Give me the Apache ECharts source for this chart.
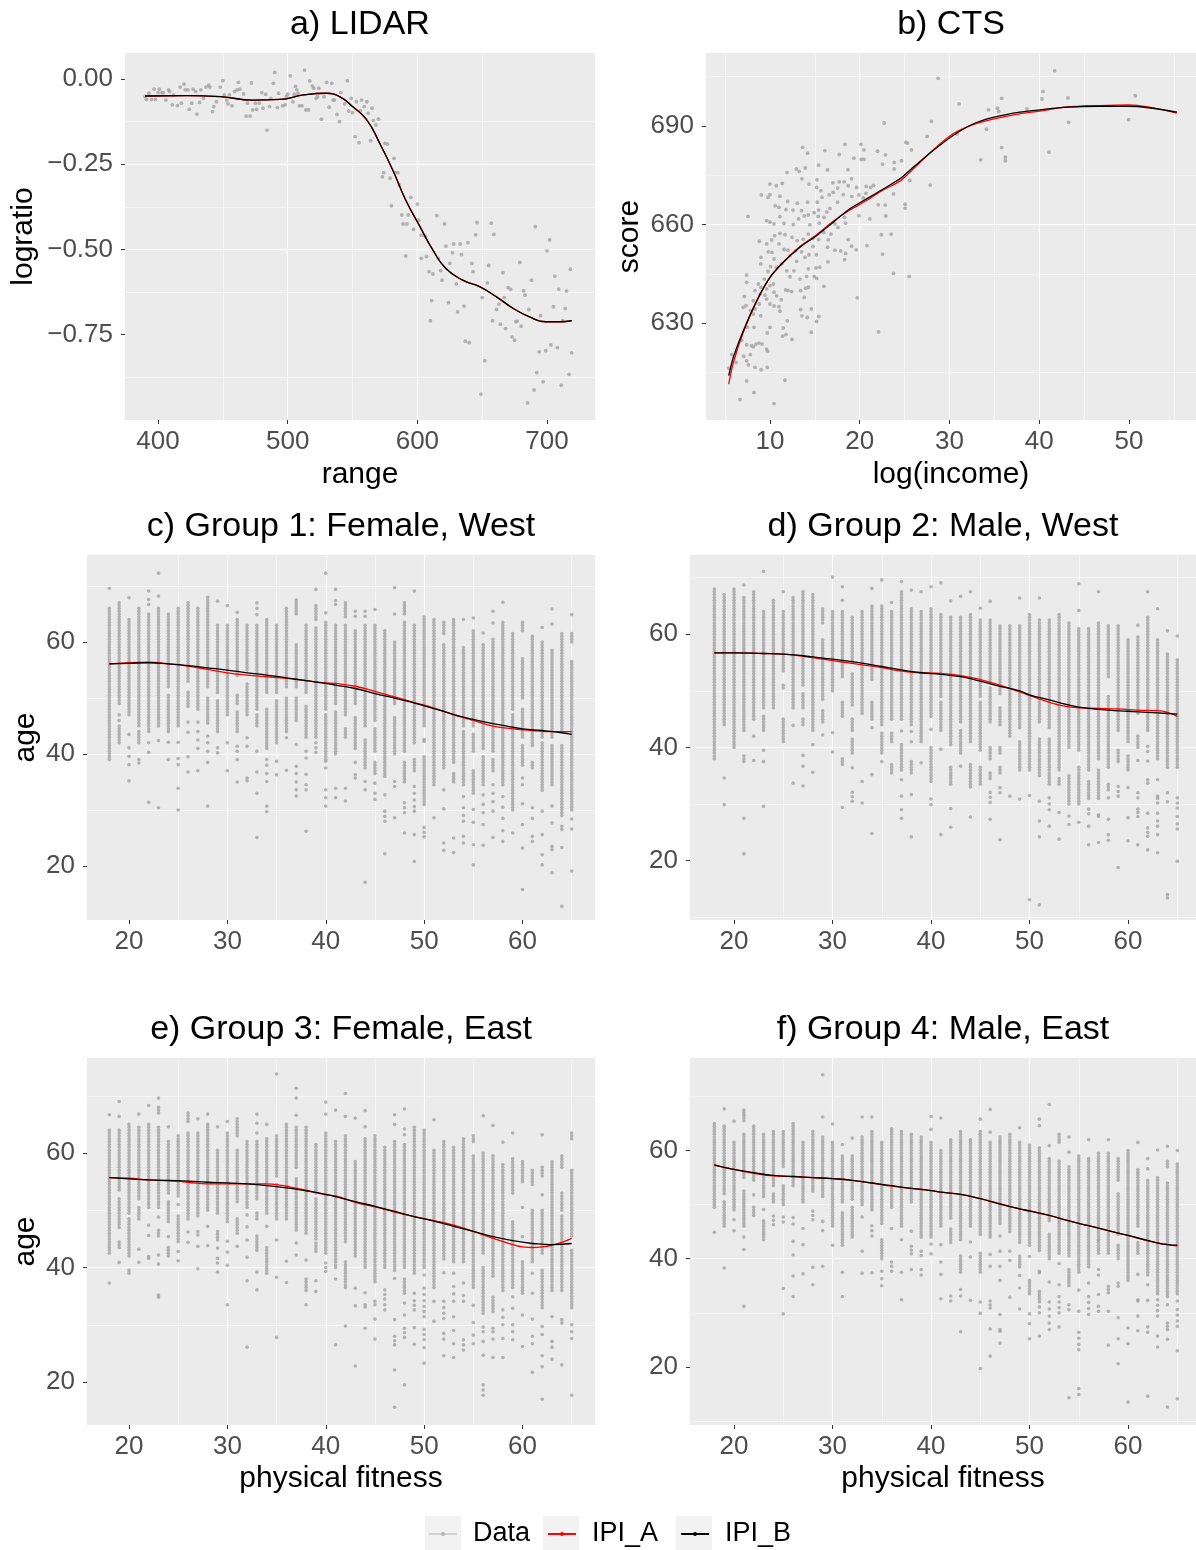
<!DOCTYPE html>
<html>
<head>
<meta charset="utf-8">
<script src="https://cdn.jsdelivr.net/npm/echarts@6/dist/echarts.min.js"></script>
<style>
  html, body { margin: 0; padding: 0; background: #fff; }
  #chart { width: 1196px; height: 1550px; }
</style>
</head>
<body>
<div id="chart"></div>
<script>
// ---- a) LIDAR ----
var lidarRange = [390,391,393,395,397,398,400,401,403,404,
  406,408,409,411,412,415,417,418,420,421,
  423,424,426,427,429,430,432,433,435,437,
  439,440,442,443,445,448,450,451,453,454,
  455,457,459,461,462,463,466,468,469,471,
  472,473,475,476,478,480,481,483,484,486,
  487,489,490,492,493,496,498,499,500,502,
  504,505,506,507,508,509,511,513,514,516,
  517,519,520,522,523,524,526,528,530,532,
  534,535,536,538,540,541,544,546,547,549,
  550,552,553,555,556,557,559,561,562,564,
  565,566,568,570,573,574,575,577,579,580,
  582,583,585,586,588,589,591,592,593,595,
  597,600,601,603,606,603,607,609,610,611,
  612,615,616,618,619,621,622,624,625,627,
  628,630,631,633,634,636,637,639,640,642,
  643,645,646,649,650,652,654,655,657,658,
  659,661,663,664,666,667,668,670,672,673,
  675,676,677,679,680,682,683,685,686,688,
  690,691,692,694,695,697,699,700,702,703,
  705,706,708,709,711,712,714,715,717,718,
  719];
var lidarLogratio = [-0.052,-0.060,-0.042,-0.060,-0.030,-0.060,-0.040,-0.030,-0.040,-0.040,
  -0.062,-0.032,-0.037,-0.076,-0.047,-0.078,-0.024,-0.071,-0.015,-0.032,
  -0.032,-0.089,-0.071,-0.030,-0.037,-0.103,-0.069,-0.032,-0.057,-0.024,
  -0.018,-0.024,-0.096,-0.081,-0.067,-0.024,-0.005,-0.047,-0.062,-0.073,
  -0.047,-0.079,-0.037,-0.032,-0.010,-0.030,-0.044,-0.109,-0.071,-0.109,
  -0.012,-0.091,-0.071,-0.089,-0.071,-0.040,-0.086,-0.045,-0.150,-0.081,
  -0.057,-0.013,0.019,-0.084,-0.042,-0.079,-0.076,-0.052,-0.045,0.009,
  -0.067,-0.045,-0.022,-0.032,-0.042,-0.079,-0.079,0.026,-0.091,-0.091,
  -0.006,-0.021,-0.027,-0.057,-0.052,-0.027,-0.118,-0.052,-0.010,-0.083,
  -0.013,-0.062,-0.062,-0.104,-0.125,-0.040,-0.073,-0.005,-0.094,-0.057,
  -0.099,-0.169,-0.067,-0.187,-0.093,-0.062,-0.081,-0.067,-0.101,-0.181,
  -0.086,-0.122,-0.135,-0.118,-0.287,-0.275,-0.189,-0.191,-0.291,-0.372,
  -0.233,-0.275,-0.275,-0.311,-0.399,-0.425,-0.519,-0.425,-0.399,-0.347,
  -0.441,-0.367,-0.414,-0.458,-0.461,-0.526,-0.521,-0.565,-0.709,-0.650,
  -0.572,-0.401,-0.526,-0.562,-0.590,-0.425,-0.490,-0.656,-0.541,-0.510,
  -0.484,-0.601,-0.683,-0.484,-0.515,-0.666,-0.769,-0.480,-0.773,-0.541,
  -0.565,-0.457,-0.421,-0.924,-0.641,-0.826,-0.598,-0.547,-0.423,-0.709,
  -0.456,-0.676,-0.660,-0.719,-0.568,-0.641,-0.732,-0.612,-0.617,-0.756,
  -0.766,-0.712,-0.710,-0.538,-0.725,-0.621,-0.634,-0.950,-0.676,-0.590,
  -0.912,-0.433,-0.861,-0.800,-0.694,-0.888,-0.797,-0.504,-0.472,-0.780,
  -0.668,-0.578,-0.788,-0.616,-0.898,-0.709,-0.673,-0.622,-0.866,-0.558,
  -0.803];
var lidarFitX = [390,422,448,473,494,512,530,540,550,561,571,581,591,602,612,622,635,648,661,674,686,699,710,719];
var lidarFitA = [-0.050,-0.049,-0.052,-0.062,-0.060,-0.047,-0.042,-0.052,-0.081,-0.120,-0.189,-0.267,-0.355,-0.433,-0.502,-0.556,-0.590,-0.609,-0.639,-0.673,-0.697,-0.712,-0.712,-0.709];
var lidarFitB = [-0.050,-0.049,-0.052,-0.062,-0.060,-0.047,-0.042,-0.052,-0.081,-0.120,-0.189,-0.267,-0.355,-0.433,-0.502,-0.556,-0.590,-0.609,-0.639,-0.673,-0.697,-0.712,-0.712,-0.709];

// ---- b) CTS ----
var ctsIncome = [28.74,41.72,31.07,40.42,40.31,43.2,50.7,35.82,34.34,35.34,
  35.49,38.64,43.28,49.96,27.99,22.73,30.85,27.51,35.82,33.48,
  36.23,36.23,41.09,25.14,25.32,25.77,34.12,27.85,25.58,23.84,
  24.65,23.84,23.76,22.54,22.87,21.98,20.46,20.13,20.17,20.46,
  19.35,18.35,17.72,16.12,13.64,14.19,13.93,12.93,13.26,11.89,
  13.56,14.34,15.42,16.42,18.68,15.23,15.19,18.27,19.09,18.72,
  17.72,17.01,17.53,17.05,16.60,15.68,15.79,15.27,14.19,13.04,
  11.97,11.37,10.70,10.0,11.11,10.0,9.04,9.78,10.59,11.0,
  11.11,11.78,12.56,13.52,14.27,14.93,15.42,15.38,16.34,16.68,
  17.53,18.16,19.13,19.91,20.39,20.72,21.2,21.54,20.69,22.06,
  22.84,22.91,21.13,19.91,19.65,25.06,25.06,7.55,9.63,10.0,
  10.45,11.56,12.6,13.19,13.82,14.45,15.49,16.01,17.23,18.31,
  18.42,17.57,16.79,16.01,14.79,14.27,13.71,13.04,12.45,11.67,
  11.11,10.52,10.19,9.63,8.81,9.81,10.22,10.45,11.0,11.56,
  12.0,12.23,12.86,12.97,13.52,13.9,14.34,14.79,15.16,15.42,
  16.42,16.49,17.23,17.87,18.42,18.72,19.09,19.61,20.8,22.43,
  23.5,22.54,23.76,25.51,18.31,16.46,16.01,15.53,15.12,14.93,
  15.19,14.27,14.08,13.34,12.67,12.23,11.86,11.3,10.74,10.07,
  9.78,9.37,8.96,9.0,8.7,9.0,9.63,10.0,10.37,10.45,
  10.74,11.26,11.74,12.0,12.41,13.41,13.97,14.27,13.82,13.41,
  13.56,14.16,14.6,15.45,15.19,14.6,12.45,11.93,11.48,11.78,
  11.41,11.11,11.0,10.45,10.0,9.63,9.44,8.89,8.81,8.33,
  8.15,7.4,7.4,7.14,7.33,7.03,7.85,8.33,8.15,8.96,
  10.0,9.7,8.22,7.48,6.85,7.4,7.07,7.81,7.96,8.15,
  8.44,8.78,9.11,9.63,9.74,7.4,7.59,8.33,9.0,9.7,
  5.74,6.22,5.4,7.4,8.22,6.66,11.67,10.45,19.72,22.1];
var ctsScore = [704.5,706.8,696.7,700.5,698.2,698.5,699.2,698.4,694.9,695.4,
  694.4,695.2,691.1,691.9,691.4,690.9,687.6,686.8,683.4,679.7,
  680.5,679.4,682.0,685.0,684.8,682.7,689.0,672.0,673.4,678.9,
  679.4,676.9,669.3,678.4,681.2,682.3,682.7,684.4,679.8,679.8,
  680.2,684.4,681.3,682.5,683.5,681.7,677.2,676.9,676.2,675.8,
  673.9,672.3,678.1,676.6,676.7,673.6,671.3,673.0,673.9,671.8,
  673.0,672.7,671.1,669.8,669.0,670.3,668.3,666.8,666.8,666.5,
  667.0,672.5,671.8,672.3,668.6,669.1,669.0,668.3,665.7,665.2,
  662.4,664.5,664.4,664.2,662.9,663.6,664.4,662.5,663.8,664.9,
  666.8,669.1,668.5,669.0,668.1,671.6,671.3,671.9,669.5,666.0,
  665.9,662.6,661.7,662.7,671.3,666.2,665.0,662.5,661.2,660.7,
  660.2,660.3,660.0,661.7,662.6,659.9,660.4,662.2,660.2,662.2,
  660.4,659.1,657.1,657.6,655.8,657.1,655.5,655.1,656.1,656.9,
  657.3,656.6,655.3,654.1,654.9,651.7,651.5,649.5,654.1,652.4,
  652.2,650.5,652.0,648.8,651.7,650.0,650.8,653.3,650.8,655.4,
  653.1,655.3,652.2,652.0,651.2,655.4,653.4,652.3,653.6,656.9,
  657.1,651.0,645.1,644.2,649.3,648.6,641.2,647.0,646.8,644.2,
  643.6,646.5,644.2,643.4,645.9,644.1,645.9,648.0,647.0,647.2,
  645.7,643.4,648.0,650.0,641.9,640.9,640.4,641.4,641.9,639.4,
  638.3,637.1,640.1,639.9,639.6,639.9,640.6,640.9,637.8,634.1,
  632.2,631.7,634.3,632.0,630.5,627.2,625.0,630.7,628.5,626.5,
  626.0,633.6,635.0,635.2,635.8,637.3,638.5,638.8,635.8,639.9,
  636.8,642.4,644.6,638.1,635.3,634.8,633.8,634.3,632.8,632.2,
  628.7,627.0,628.7,628.7,624.8,623.4,619.9,620.4,623.1,622.8,
  623.6,623.9,623.6,622.1,621.4,618.5,617.3,616.5,615.8,616.5,
  620.4,618.0,616.3,612.4,608.9,606.7,612.6,605.5,637.7,627.3];
var ctsFitX = [5.40,5.92,7.03,8.52,10.0,11.48,13.34,15.19,17.05,18.9,20.76,22.61,24.47,25.95,28.18,30.4,32.63,34.86,37.82,40.05,43.02,46.73,49.99,55.34];
var ctsFitA = [611.4,618.0,627.2,636.6,643.9,648.5,653.3,656.9,661.0,664.4,667.3,670.5,673.2,676.9,682.7,687.6,690.4,692.1,693.7,694.5,695.7,696.2,696.4,693.9];
var ctsFitB = [614.0,619.6,627.7,636.8,643.9,648.5,653.1,656.6,660.7,664.8,667.8,670.8,673.9,677.4,682.5,687.1,690.6,692.6,694.2,694.9,695.7,696.0,696.0,694.2];

// ---- c)-f): physical fitness 18..65, one string per column of read ages.
// "a-b" = a run of stacked observations from a to b, single numbers = isolated points
var fitnessFirst = 18;
var group1Cols = ["39-66 69.6","49-67 47 46 42-45","47-64 67.9 43.5 41.1 39.6 38.1 35.2","45-66 42-44 39 38.4",
  "44-65 66.7 67.6 69.1 42 40.3 31.4","48-66 68.2 72.3 45-47.5 42.4 30.4","52-65 44-50.5 42.1 39","45-66 42.1 39.2 38.1 33.9 30",
  "53-67 48.5-51 45.7 43.9 39.5 36.8","48-66 45.7 44 42.5 41 37","52-68 45.5-50 43.2 42 40.5 38.5 30.7","51-63 67.3 44-49.5 41.1 40.2",
  "47-63 66.5 42 37","54-64 65.3 49-50.5 44-47.5 41.4 40.5 39 35","55-63 47-52.5 42.9 41.4 35.7 35.2","48-63 64.9 66 67 45-47 40.5 36.8 33 25.1",
  "51-64 41-48 39 38 36.5 35.1 30.7 29.7","51-63 42-49.5 38.7 36.3","52-66 44-50 42.9 37.1","52-59.5 65-67.5 46-50 41.7 37.8 36.5 35 33.6 32.5",
  "51-63 43-48.8 40.5 39.3 36.4 34.5 33.6 26.2","43-62.5 64-66.5 69.4 42 41.1 40.3","48-63.5 39-47 65.2 72.3 38.7 37.5 33.6 32.2 30.7","49-63 40-47.5 66.7 67.4 69.4 33.9 32.2",
  "47-63 64.5-67 43-44.5 33.9 31.6","49-62 64.6 65.5 41-46.5 38.5 36.3 35.7","45-63 64.6 65.5 37.5-42.5 35.1 33.6 17.1","46-63 65.8 40.5-44.5 36.5-38.5 34.8 33 31.9",
  "36-62 32.7 29.8 28.9 28 22.2","49-60 40-46.5 65 69.7 35.1 34.2 28.6","40.5-63.5 65-67 35-38.5 31.3 30.4 29.5 25.9","42-63 69.1 37-39 34.2 33 31.8 30.6 29.8 25.6 20.8",
  "45-64.5 42.3 42.6 31-39.5 26.9 26 25.2","34.5-64 28.6","37.5-59.5 61.5-63.5 33.6 30.2 24.1 22.8","38.5-64 35-36.5 25 22.4",
  "45-59 34.5-44 64 32.4 30.4 29 28 25.3 24.1","45-62 64.3 40.5-43.5 33-37 30.1 27.8 23.8 20.2","41-59.5 61.6 34.5-39.5 32.7 31 29.5 27.4 23.7","40.5-60.5 63.4 65.5 37-39 34.5 33 31.5 29.8 25.1",
  "40.5-63.5 67.1 34.5-40 32.4 30.5 28.5 26.3 24.4","48-61.5 30-47 25.9","50-57 62-63.5 43-48 38-41.5 35.7 34.5 31.1 27.4 23.2 15.8","41.5-61 37.5-38.5 30.4 28.5 25.3 24.4",
  "43-60 33.5-42 62.6 29.8 25.6 22 20.2","43-58.5 34.5-41.5 63.2 65.9 30.7 27.7 23.5 22.9 18.8","44-61.5 29-41.5 27.1 26.5 23.3 12.8","30-56.5 60-61.5 64.9 28.4 26.6 19.1"];
var group2Cols = ["38-68","44-67 34.6 29.9","40-68","43-66.5 68.7 37.5-38.5 27.5 21.2",
  "45-67.5 42 37.7","47-64 71.1 43-45.5 39.5 37.5 29.6","47-66","53.5-64 67.5 50.5-51 41-45",
  "47-66.5 43.9 33.7","51-67.5 47-49.5 44-45 38.6 36.7 33.2","43-67 40.5 35.6","62-64.5 48.5-59 44.5-46.5 42.2",
  "50-64 70.1 42.6 39.2","52.5-64 66 68.4 45.5-48 37-38 29.4","55-63 47.5-53 43-45 39-41.5 36.4 32.1 31.3 30.5","46-64 34 30.2",
  "52-65 68.1 45-48 43.5 35.2 24.8","44-65 69.6 39-42.5 37.5","45-64 65.6 41-42.5 35.5-37","45-67.5 69.3 42.9 36-40.5 34.3 31.4 29 27.5",
  "44-64.5 67.8 42.8 41 35.5-37.5 31.7 24.2","41-64 67.5 37.3","45.5-64.5 68.4 43.2 34-40 30.9 29.9","49-63.5 43-48 69.1 39.7 24.6",
  "40.5-63 65.9 33.5-36.5 29.2 25.9","44.5-63 66.7 39-43 36.7","41-63.5 67.5 33-37 27.7","49-62.5 64.6 39.5-48 33.5-36.5",
  "51.5-62.5 65.8 44.5-50.5 38-40 34.5-35.5 32.1 31.2 30.3 27.3","49.5-61.5 44-47 39-40 35.5-36.5 32.9 32 23.7","42-61.5 31.4","43.5-61.5 66.4 36-41 30.9",
  "36-63.5 31.5 13.1","44.5-62.5 66.4 35-41.5 30.5 27 24.2 12.2","43.5-62.5 33.5-41.5 31.1 30 29 26.1","36-63.5 33.5-34.5 28.5 23.8",
  "40-62 30-35 27.9 26.4","39.5-61 64.2 68.9 30-36.5 26.8","43-61 36-42.5 31-34 28.3 29.1 26.1 22.8","38-62 67.5 31-36 27.8 28.1 23.2",
  "52.5-61.5 36.5-49 32.5-33.5 31.1 27.3 24.6 23.6","43-61.5 37.5-39.5 31.4 32.2 33.1 18.8","41-59 36-38.5 32.9 27.6 23.5","46-59.5 61.6 40-42 37.7 31.1 32 27.8 28.5 29.1 22.8",
  "43-63 67.5 39.3 40.2 37.6 33.7 34.3 28.4 24.3 25 25.8 21.9","38-59 64.5 34.3 30.2 31 31.4 26.1 27 28.4 24.6 21.4","36.5-56.5 60.6 32 30.4 14 13.4","36.5-55.5 59.7 31.1 30.2 29.3 27.8 26.5 25.6 19.9"];
var group3Cols = ["42.5-64 66.7 37.3","53.5-64 47-52 69 66.4 43.5-44.5 40.9","49.5-65 42-48.5 39-39.5","52-64.5 66.8 48.5-50.5 43.2 40.9",
  "50.5-65 68.3 47.4 45.6 41.6 41.9","50.5-64.5 67-68 69.6 48.8 45.5-46.5 42.2 40.6 34.8 35.2","53-62 64.6 48-51.5 45.4 42-43.5","52.5-63 51 44.5-49 42.8 41.2",
  "48.5-63.5 65.5-67 46.2 44.4","49-63.5 66 45.7 46.3 43.7 39.8","50-65 66.8 47.2 43.8","49.5-60.5 64.6 44.8-46.6 43.4 41.6 40.8 39.2",
  "48-63.5 65.5 44.6 42.7 40.4 33.5","51.5-60.5 63-66 46-48.5 43.7","50.5-62 49.2 47.1 44.8 41.8 37.7 26.1","52-62 63.5 65.2 66.8 48.5-49.5 43-45.5 39.2 36.1",
  "49.5-62.5 65 47.2 39-43.5","56-63 48.5-54.5 73.8 44.8 38.3 27.8","48.5-65 41.1 37.4","57.5-64.5 46.5-55.5 66.6 69.6 71.3 44.3 42.2",
  "48.5-64.5 46-48 41.3 36-38 33.5","53-61.5 45-52 42.8-44.6 37.7 35.8","42.5-63.5 66.8 68.9 39.3 40 40.8","40-62 67.5 38 26.5",
  "44.5-63 66.4 70.4 36.5-41 29.8","42-58.5 66.1 36.4 33.3 22.8","40-62.5 64.6 67.4 35.6 33.1 33.5 29.4","37.5-63 33.5 34.1 31 27.5",
  "40-61 32.6 33.5 34.5 35.3 36.1","39.5-62 65 66.7 38.1 30.9 28 27.2 26.5 22.1 15.6","40-61.5 63.2 64.2 67.7 35.5-38 33.8 31.7 29.4 28.6 27.8 19.5","39-64.5 35.5 34.2 33.4 32.6 29.5 26.6",
  "40-64 38.7 36.4 35.3 34.2 33.2 32.3 31.4 29.2 28.3 27.4 26 23.3","36.5-60.5 65.8 34.1 30.6","41.5-62 39.1 34.1 33 32 31.1 28.5 27.5 24.6","41-61 39 36.7 35.4 34.1 31.4 29 26.7 24.3",
  "41-62.5 37.3 35.1 34.1 27.4 26.5 25.6","36.5-59.5 62-63 33.4 30.4 28.2 26.7","42.5-60 32-40 66.5 29.6 28.8 27.1 24.7 19.5 18.6 17.7","38.5-59.5 64.8 32.3-35 29.4 28.8 27.5 24.3",
  "36-58 61.9 32.6 31.3 30 27.6 24.3","36.5-48 53-59 63.5 34.9 32.9 30 28.8 27.4","55-58.5 50.5 45.4 35.5-41 31.7 26.2","41-50 54.5-57 39 35.5 31 28 26.7 21.7",
  "42.5-50 56-57.5 52.7 63.2 33-39.5 29.7 28.3 24.6 22.7 17","36-58.5 31.4 27.1 26.1 24","36-49 50-53 57.5-59.5 30.9 30.3 23","45.5-57 33-43 62.5-63.5 30 28.8 27.6 17.7"];
var group4Cols = ["49.5-65 44.9","52-64.5 67.7 46-50.5 38.3","49-61.5 65.4 47.2 45.2","55-63 65.5-67.5 46-52.5 44 41.7 31.2",
  "54.5-64.5 51.8 48-49.5","51.5-63 49.1 43.5-47","53.5-63.5 50.5-52 46.3 47.1 47.9","57-63.5 50-53.5 46.8 47.7 34.5 29.8",
  "53.5-65 46.4 47.6 43.2 40.7 36.8 33","50.5-61.5 45.6 42.6 37.2","52.5-63.5 47.2 48 48.8 38.4 35.2","51.5-62.5 66.2 74 46.9 45.2 38.6",
  "46-61.5 64.9 42.5","50.5-59 61.1 42.5-48.5 37.5 33","51-59 62.3 44-49.5","50-62.5 66.2 47.7 41.4 37.3",
  "49-63.5 66.2 44.2 45.2 46.1 37.4","46.5-61.5 40-43.5 35 36.3 37.7","49.5-64 45.6 37.7 38.6 39.4","46-63.5 43.5 37.5 32.4",
  "50.5-63 45.1 40.9 41.6 42.3 38","44-62.5 40.6 41.4 37 38","44-61.5 63.9 66.3 42.7 40.9","46-60 66 42.6 39.4 37.1 32.6",
  "47.5-62 43-45.5 32.2 33.1","43.5-63.5 37.5-40.5 33.1 34.3 26.5","46-62 43.1 40.3 32.3","44.5-63.5 65.8 37.5-41 32 29.9 19.7",
  "44-61.5 63.4 67.6 40.8 38.6 30.9 31.5 32.2 27 22","46.5-62.5 44.2 41.4 38.6 36 29.7 26.9 26.6 24.4","45-63 41.4 39.7 32.9","43-61.5 64.2 38.5-40.5 36.9 34.6 30.7",
  "42.5-61 40.4 33.5-36 29.8 28 25.2","41.5-60.5 64.6 65.8 37.4 37.7 32-34 30 31.1 25.7","47-58.5 60.9 68.5 40-44.5 35.7 32 30.7 29.4 28.1 26.9","41-58 61.5-63 39.1 35.2 33 32 31 30 27.4",
  "40.5-57 59.7 62.5 35-38 30.6 31.5 14.3","37.5-59 34.2 30.3 26.4 25.3 24.2 23.2 16 14.9","38.5-58.5 62 35.5 33 31.9 30.8 29.7","41-59.5 43.5 37 38 33.4 30.3 31.2",
  "41-59.5 62 33.7 34.3 34.9 30.3 24","44.5-52 54.5-58.5 40-42.5 34.9 35.5 29.1 25.2 20.6","36-60 27.2 24.3 13.5","46-56.5 61.5 41-43 37.1 32.2 32.4 29.4 26.7",
  "37-54.5 56.6 58.5 35.2 32.3 26.4 27.4 14.6","33.5-55 60.1 29.4 30.4 31.4 32.4 25.7 23.7","33-54 57-58 60.8 31.5 26.9 27.5 28.1 25.1 12.6","33.5-57.5 60 32.2 30.6 29.6 28.5 27.5 23 14.1"];

// fitted curves for c)-f)
var g1FitAX = [18,22,24,26,28,30,32,34,36,38,40,41,43,45,47,49,51,53,55,57,59,61,63,65];
var g1FitA = [56.1,56.4,56.1,55.7,55.1,54.5,54.1,53.8,53.5,53.1,52.7,52.6,52.1,51.2,50.2,49.2,48.2,47.0,46.0,45.0,44.5,44.2,44.0,44.0];
var g1FitBX = [18,20,22,24,26,28,30,32,34,36,38,40,41,43,45,47,49,50,52,54,56,58,60,62,64,65];
var g1FitB = [56.1,56.2,56.3,56.1,55.8,55.4,55.0,54.5,54.1,53.6,53.1,52.6,52.3,51.7,50.8,50.0,49.1,48.6,47.6,46.6,45.8,45.1,44.5,44.2,43.8,43.5];
var g2FitAX = [18,20,23,25,27,29,31,33,35,37,39,41,43,45,47,49,51,53,55,57,59,61,63,65];
var g2FitA = [56.7,56.7,56.6,56.5,56.1,55.6,55.1,54.6,54.1,53.5,53.2,53.1,52.7,52.0,51.0,49.8,48.6,47.5,47.0,46.9,46.8,46.6,46.5,45.5];
var g2FitBX = [18,20,23,25,27,29,31,33,35,37,39,41,43,45,47,49,50,52,54,56,58,60,62,64,65];
var g2FitB = [56.7,56.7,56.6,56.5,56.2,55.8,55.4,54.9,54.3,53.7,53.2,52.9,52.5,51.7,50.8,50.0,49.3,48.4,47.5,46.9,46.6,46.4,46.2,46.0,45.9];
var g3FitAX = [18,20,22,24,26,28,30,32,34,35,36,38,40,41,43,45,47,49,51,53,55,57,59,60,61,62,63,64,65];
var g3FitA = [55.7,55.6,55.3,55.2,54.9,54.6,54.6,54.6,54.6,54.5,54.2,53.5,52.7,52.5,51.4,50.6,49.7,48.9,48.2,47.4,46.3,45.1,44.0,43.6,43.5,43.6,43.9,44.4,45.1];
var g3FitBX = [18,20,22,24,26,28,30,32,34,36,38,40,41,43,45,47,49,51,53,55,57,59,61,62,63,65];
var g3FitB = [55.7,55.5,55.3,55.2,55.1,54.9,54.8,54.6,54.3,53.9,53.4,52.8,52.4,51.5,50.7,49.8,48.9,48.1,47.2,46.3,45.4,44.7,44.2,44.1,44.0,44.2];
var g4FitX = [18,19,20,22,24,26,28,30,32,34,36,38,40,41,43,45,47,49,50,52,54,56,58,60,62,64,65];
var g4FitA = [57.4,56.9,56.5,55.8,55.3,55.2,55.0,54.8,54.5,54.0,53.4,53.0,52.6,52.3,51.9,51.1,50.2,49.2,48.9,48.0,47.0,46.1,45.2,44.3,43.3,42.6,42.4];
var g4FitB = [57.3,56.9,56.5,55.9,55.4,55.2,55.0,54.8,54.5,54.0,53.5,53.0,52.6,52.3,51.9,51.1,50.1,49.2,48.8,48.0,47.0,46.1,45.2,44.3,43.4,42.6,42.5];

// tick labels
var lidarXTicks = [400, 500, 600, 700];
var lidarYTicks = [-0.75, -0.5, -0.25, 0];
var ctsXTicks = [10, 20, 30, 40, 50];
var ctsYTicks = [630, 660, 690];
var fitnessTicks = [20, 30, 40, 50, 60];
var ageTicks = [20, 40, 60];

var FONT = 'Liberation Sans, Arial, Helvetica, sans-serif';
var GREY = '#A3A3A3';

function pairs(xs, ys) {
  return xs.map(function (x, i) { return [x, ys[i]]; });
}

// turn the column strings into [fitness, age] points
function columnPoints(cols) {
  var pts = [];
  cols.forEach(function (col, i) {
    var x = fitnessFirst + i;
    col.split(' ').forEach(function (tok) {
      var r = tok.split('-');
      if (r.length === 2) {
        for (var v = +r[0]; v <= +r[1] + 1e-9; v += 0.5) pts.push([x, v]);
      } else {
        pts.push([x, +tok]);
      }
    });
  });
  return pts;
}

function axis(g, o) {
  return {
    type: 'value', gridIndex: g, min: o.min, max: o.max,
    splitNumber: o.split, interval: o.interval,
    name: o.name || '', nameLocation: 'middle', nameGap: o.gap,
    nameTextStyle: { fontFamily: FONT, fontSize: 30, color: '#000' },
    axisLine: { show: false, onZero: false },
    axisTick: { show: true, length: 4, lineStyle: { color: '#333', width: 1 }, customValues: o.ticks },
    axisLabel: { customValues: o.ticks, margin: o.margin, fontFamily: FONT, fontSize: 26, color: '#4D4D4D',
      formatter: o.fmt || function (v) { return String(v); } },
    splitLine: { show: true, showMinLine: false, showMaxLine: false, lineStyle: { color: '#FFFFFF', width: 1.1 } },
    minorTick: { show: false, splitNumber: 2 },
    minorSplitLine: { show: true, lineStyle: { color: '#FFFFFF', width: 0.5 } }
  };
}

function scatter(g, data, size) {
  return { name: 'Data', type: 'scatter', xAxisIndex: g, yAxisIndex: g, data: data,
    symbolSize: size, itemStyle: { color: GREY }, silent: true, large: false, progressive: 0, z: 2 };
}
function fitLine(g, name, data, color, smooth, z) {
  return { name: name, type: 'line', xAxisIndex: g, yAxisIndex: g, data: data, color: color,
    symbol: 'none', showSymbol: false, smooth: smooth, lineStyle: { color: color, width: 1.3 },
    itemStyle: { color: color }, silent: true, z: z };
}

var minusFmt = function (v) { return (v < 0 ? '\u2212' : '') + Math.abs(v).toFixed(2); };

var grids = [
  { left: 125, top: 53, width: 470, height: 367 },
  { left: 706, top: 53, width: 490, height: 367 },
  { left: 87, top: 555, width: 508, height: 365 },
  { left: 690, top: 555, width: 506, height: 365 },
  { left: 87, top: 1058, width: 508, height: 367 },
  { left: 690, top: 1058, width: 506, height: 367 }
].map(function (g) {
  g.show = true; g.backgroundColor = '#EBEBEB'; g.borderWidth = 0; g.containLabel = false;
  return g;
});

var xAxes = [
  axis(0, { min: 374.5, max: 737, split: 4, ticks: lidarXTicks, name: 'range', gap: 40, margin: 9 }),
  axis(1, { min: 2.87, max: 57.47, split: 5, ticks: ctsXTicks, name: 'log(income)', gap: 40, margin: 9 }),
  axis(2, { min: 15.73, max: 67.37, split: 5, ticks: fitnessTicks, margin: 9 }),
  axis(3, { min: 15.53, max: 66.9, split: 5, ticks: fitnessTicks, margin: 9 }),
  axis(4, { min: 15.73, max: 67.37, split: 5, ticks: fitnessTicks, name: 'physical fitness', gap: 39, margin: 9 }),
  axis(5, { min: 15.53, max: 66.9, split: 5, ticks: fitnessTicks, name: 'physical fitness', gap: 39, margin: 9 })
];
var yAxes = [
  axis(0, { min: -1, max: 0.076, interval: 0.25, ticks: lidarYTicks, name: 'logratio', gap: 86, margin: 12, fmt: minusFmt }),
  axis(1, { min: 600.5, max: 712.2, split: 4, ticks: ctsYTicks, name: 'score', gap: 61, margin: 12 }),
  axis(2, { min: 10.36, max: 75.54, split: 3, ticks: ageTicks, name: 'age', gap: 46, margin: 12 }),
  axis(3, { min: 9.52, max: 74.0, split: 3, ticks: ageTicks, margin: 12 }),
  axis(4, { min: 12.5, max: 76.6, split: 3, ticks: ageTicks, name: 'age', gap: 46, margin: 12 }),
  axis(5, { min: 9.27, max: 77.1, split: 3, ticks: ageTicks, margin: 12 })
];

var series = [
  scatter(0, pairs(lidarRange, lidarLogratio), 3.8),
  fitLine(0, 'IPI_A', pairs(lidarFitX, lidarFitA), '#FF0000', true, 5),
  fitLine(0, 'IPI_B', pairs(lidarFitX, lidarFitB), '#000000', true, 6),
  scatter(1, pairs(ctsIncome, ctsScore), 3.8),
  fitLine(1, 'IPI_A', pairs(ctsFitX, ctsFitA), '#FF0000', 0.3, 5),
  fitLine(1, 'IPI_B', pairs(ctsFitX, ctsFitB), '#000000', 0.3, 6),
  scatter(2, columnPoints(group1Cols), 3.6),
  fitLine(2, 'IPI_A', pairs(g1FitAX, g1FitA), '#FF0000', true, 5),
  fitLine(2, 'IPI_B', pairs(g1FitBX, g1FitB), '#000000', true, 6),
  scatter(3, columnPoints(group2Cols), 3.6),
  fitLine(3, 'IPI_A', pairs(g2FitAX, g2FitA), '#FF0000', true, 5),
  fitLine(3, 'IPI_B', pairs(g2FitBX, g2FitB), '#000000', true, 6),
  scatter(4, columnPoints(group3Cols), 3.6),
  fitLine(4, 'IPI_A', pairs(g3FitAX, g3FitA), '#FF0000', true, 5),
  fitLine(4, 'IPI_B', pairs(g3FitBX, g3FitB), '#000000', true, 6),
  scatter(5, columnPoints(group4Cols), 3.6),
  fitLine(5, 'IPI_A', pairs(g4FitX, g4FitA), '#FF0000', true, 5),
  fitLine(5, 'IPI_B', pairs(g4FitX, g4FitB), '#000000', true, 6)
];

function legendAt(name, left, icon) {
  var item = { name: name };
  if (icon) item.icon = icon;
  return {
    left: left, top: 1517, padding: 0, itemWidth: 28, itemHeight: 5, selectedMode: false,
    data: [item],
    textStyle: { fontFamily: FONT, fontSize: 27, color: '#000', lineHeight: 34, padding: [0, 0, 0, 11] }
  };
}
var dataIcon = 'path://M0,2 L28,2 L28,3 L0,3 Z M12,2.5 A2,2 0 1,1 16,2.5 A2,2 0 1,1 12,2.5 Z';

function title(text, x, y) {
  return { type: 'text', x: x, y: y, silent: true,
    style: { text: text, fontFamily: FONT, fontSize: 34, fill: '#000', align: 'center', verticalAlign: 'middle' } };
}
function keyBox(x) {
  return { type: 'rect', shape: { x: x, y: 1516, width: 36, height: 34 }, style: { fill: '#F2F2F2' }, silent: true, z: -1 };
}

var chart = echarts.init(document.getElementById('chart'), null, { renderer: 'canvas' });
chart.setOption({
  animation: false,
  backgroundColor: '#FFFFFF',
  grid: grids,
  xAxis: xAxes,
  yAxis: yAxes,
  series: series,
  legend: [legendAt('Data', 429, dataIcon), legendAt('IPI_A', 547), legendAt('IPI_B', 680)],
  graphic: { elements: [
    keyBox(425), keyBox(543), keyBox(676),
    title('a) LIDAR', 360, 25), title('b) CTS', 951, 25),
    title('c) Group 1: Female, West', 341, 527), title('d) Group 2: Male, West', 943, 527),
    title('e) Group 3: Female, East', 341, 1030), title('f) Group 4: Male, East', 943, 1030)
  ] }
});
</script>
</body>
</html>
